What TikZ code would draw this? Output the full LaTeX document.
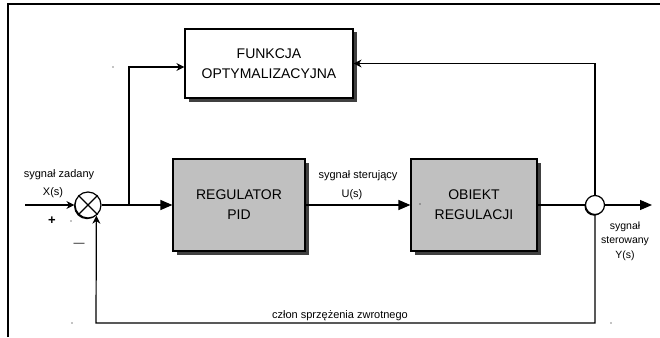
\documentclass[tikz,border=0pt]{standalone}
\usepackage{fontspec}
\setmainfont{Liberation Sans}
\usetikzlibrary{arrows.meta,shadows}

\definecolor{szary}{HTML}{C0C0C0}
\definecolor{cien}{HTML}{404040}

\tikzset{
  blok/.style={draw, line width=1.2pt, minimum width=#1, minimum height=92pt,
    inner sep=0pt, align=center, font=\fontsize{14}{20}\selectfont,
    drop shadow={shadow xshift=3.5pt, shadow yshift=-3.5pt, fill=cien, opacity=1}},
  wezel/.style={draw, circle, fill=white, inner sep=0pt, line width=1.2pt,
    drop shadow={shadow xshift=-1pt, shadow yshift=-1.2pt, fill=black, opacity=1}},
  etyk/.style={inner sep=0pt, font=\fontsize{11}{13}\selectfont},
  strz/.style={-{Stealth[length=8pt,width=8pt]}}
}

\begin{document}
\begin{tikzpicture}[x=1pt, y=-1pt, line width=1.2pt,
    >={Triangle[length=12pt,width=10pt]}]
  \useasboundingbox (0,0) rectangle (660,337);
  % ramka
  \draw (8,337) -- (8,4) -- (660,4);

  \node[blok=168pt, fill=white, minimum height=69pt] (fun) at (269,63.5)
    {FUNKCJA\\OPTYMALIZACYJNA};
  \node[blok=132pt, fill=szary] (pid) at (239,205) {REGULATOR\\PID};
  \node[blok=126pt, fill=szary] (obj) at (474,205) {OBIEKT\\REGULACJI};
  \node[wezel, minimum size=26pt] (sum) at (88,205) {};
  \draw (sum.45) -- (sum.225) (sum.135) -- (sum.315);
  \node[wezel, minimum size=19pt] (out) at (595,205) {};

  \coordinate (we) at (25,205);
  \coordinate (rozg) at (129,205);
  \coordinate (wy) at (652,205);
  \coordinate (fb) at (96,323);

  \draw[strz] (we) -- (sum);
  \draw[->] (sum) -- (pid);
  \draw[strz] (rozg) |- ([yshift=-3.5pt]fun.west);
  \draw[->] (pid) -- (obj);
  \draw (obj) -- (out);
  \draw[->] (out) -- (wy);
  \draw[strz] (out) |- (fun.east);
  \draw[strz] (out) |- (fb) -- (sum.-52);

  \node[etyk] (zad) at (59,175) {sygnał zadany};
  \node[etyk] (xs) at (53,193) {X(s)};
  \node[etyk, font=\fontsize{13}{13}\bfseries] (plus) at (52,221) {+};
  \node[etyk] (minus) at (79,245) {—};
  \node[etyk] (ster) at (358,176) {sygnał sterujący};
  \node[etyk] (us) at (352,195) {U(s)};
  \node[etyk, align=center, font=\fontsize{10.5}{14.5}\selectfont] (ys) at (625,241)
    {sygnał\\sterowany\\Y(s)};
  \node[etyk] (czlon) at (340,316) {człon sprzężenia zwrotnego};

  \foreach \p in {(113,67),(71,221),(72,323),(611,323),(420,204)}
    \fill \p circle (0.6pt);
\end{tikzpicture}
\end{document}
